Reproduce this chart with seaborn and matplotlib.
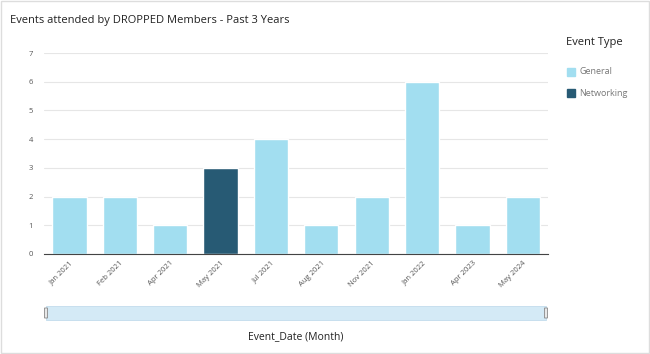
import pandas as pd
import matplotlib.pyplot as plt
import seaborn as sns
from matplotlib.patches import Rectangle, FancyBboxPatch

# Datos
months = ['Jan 2021', 'Feb 2021', 'Apr 2021', 'May 2021', 'Jul 2021',
          'Aug 2021', 'Nov 2021', 'Jan 2022', 'Apr 2023', 'May 2024']
events = [2, 2, 1, 3, 4, 1, 2, 6, 1, 2]
event_type = ['General', 'General', 'General', 'Networking', 'General',
              'General', 'General', 'General', 'General', 'General']

data = pd.DataFrame({'month': months, 'events': events, 'type': event_type})
palette = {'General': '#a2def0', 'Networking': '#275a74'}

sns.set_style('white')
plt.rcParams['font.family'] = ['Open Sans', 'DejaVu Sans']

fig = plt.figure(figsize=(6.5, 3.54), dpi=100)
ax = fig.add_axes([0.068, 0.2825, 0.775, 0.5675])

sns.barplot(ax=ax, data=data, x='month', y='events', hue='type', palette=palette,
            dodge=False, width=0.68, legend=False, saturation=1)

ax.set_ylim(0, 7)
ax.set_xlim(-0.5, len(months) - 0.5)
ax.set_yticks(range(8))
ax.yaxis.grid(True, color='#e6e6e6', linewidth=0.8)
ax.set_axisbelow(True)
ax.tick_params(axis='y', length=0, labelsize=5.5, labelcolor='#555555', pad=8)
ax.tick_params(axis='x', which='major', length=0, labelsize=5.5, labelcolor='#555555', pad=4)
for lab in ax.get_xticklabels():
    lab.set_rotation(45)
    lab.set_ha('right')
    lab.set_rotation_mode('anchor')
ax.set_xticks([i - 0.5 for i in range(len(months) + 1)], minor=True)
ax.tick_params(axis='x', which='minor', length=3, color='#444444', width=0.8)
for s in ['top', 'right', 'left']:
    ax.spines[s].set_visible(False)
ax.spines['bottom'].set_color('#444444')
ax.spines['bottom'].set_linewidth(0.8)
ax.set_xlabel('')
ax.set_ylabel('')

# Titulo
fig.text(10 / 650, 1 - 20 / 354, 'Events attended by DROPPED Members - Past 3 Years',
         fontsize=8, color='#222222', va='center', ha='left')

# Leyenda
fig.text(566 / 650, 1 - 43 / 354, 'Event Type', fontsize=8, color='#222222', va='center')
for i, t in enumerate(['General', 'Networking']):
    y = 1 - (72 + 21 * i) / 354
    fig.patches.append(Rectangle((567 / 650, y - 4 / 354), 8 / 650, 8 / 354,
                                 transform=fig.transFigure, color=palette[t]))
    fig.text(579 / 650, y, t, fontsize=6.5, color='#777777', va='center')

# Barra de desplazamiento
fig.patches.append(Rectangle((46 / 650, 1 - 320 / 354), 500 / 650, 14 / 354,
                             transform=fig.transFigure, facecolor='#d4eaf6',
                             edgecolor='#c2dcec', linewidth=0.6))
for xh in [46, 546]:
    fig.patches.append(FancyBboxPatch((xh / 650 - 1.5 / 650, 1 - 318 / 354), 3 / 650, 10 / 354,
                                      boxstyle='round,pad=0', transform=fig.transFigure,
                                      facecolor='#e8e8e8', edgecolor='#888888', linewidth=0.6))

fig.text(296 / 650, 1 - 337 / 354, 'Event_Date (Month)', fontsize=7.5, color='#222222',
         ha='center', va='center')

# Borde
fig.patches.append(Rectangle((0.002, 0.003), 0.996, 0.994, transform=fig.transFigure,
                             fill=False, edgecolor='#dddddd', linewidth=1))

plt.savefig('out.png', dpi=100)
